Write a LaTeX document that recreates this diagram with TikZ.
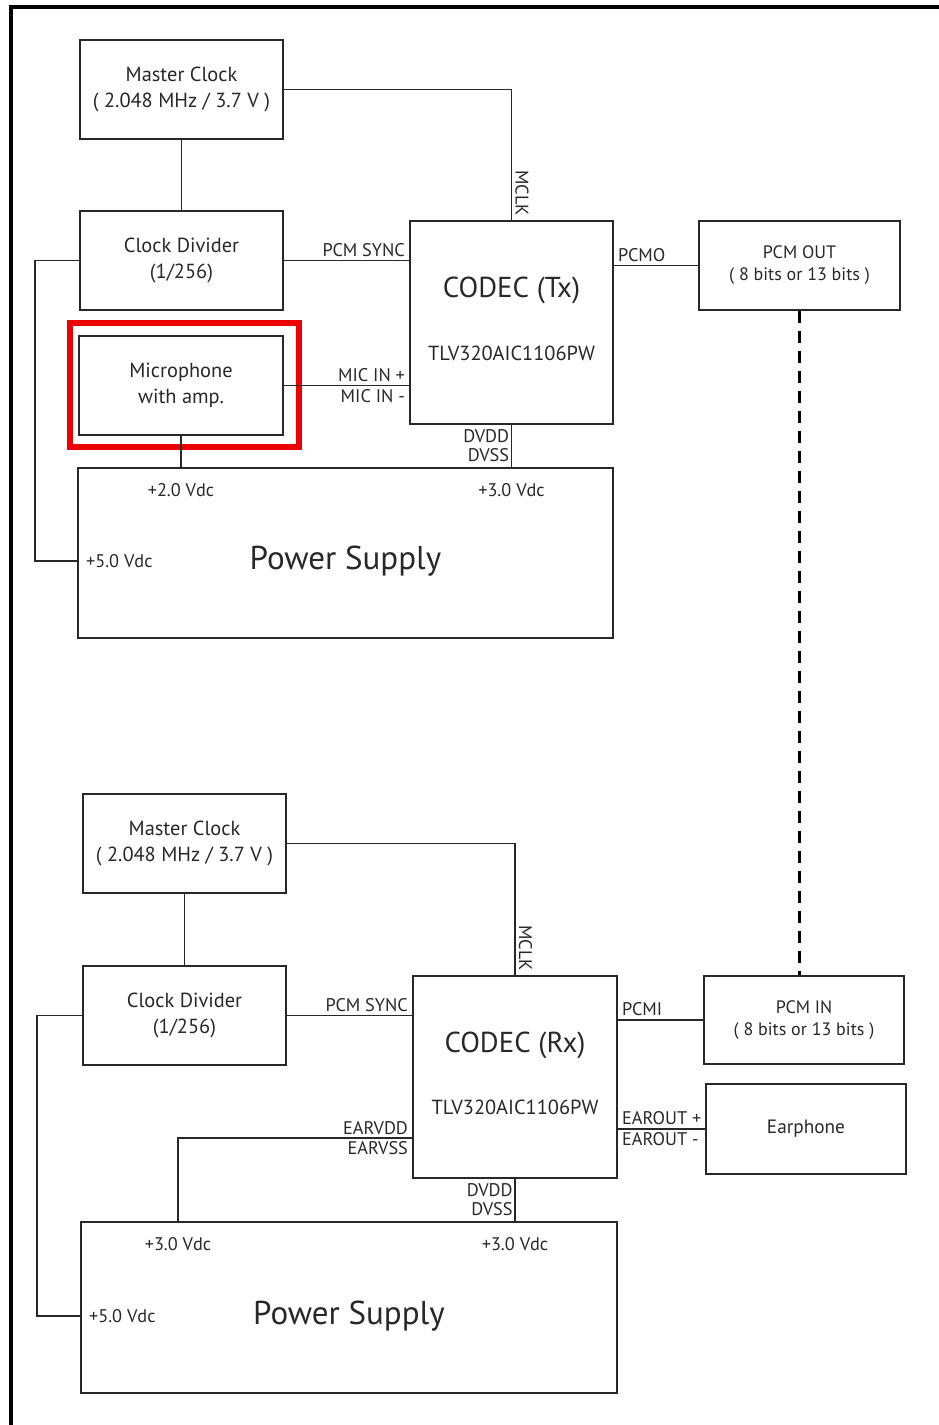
\documentclass[tikz,border=0pt]{standalone}
\usepackage{fontspec}
\setmainfont{PT Sans}
\usetikzlibrary{positioning,calc}
\definecolor{dgray}{RGB}{40,40,40}
\definecolor{hired}{RGB}{236,0,0}
\tikzset{
  blk/.style={draw=dgray, line width=1.8pt, text=dgray, align=center, inner sep=0pt, font=\fontsize{14.5}{18.5}\selectfont},
  smallblk/.style={blk, font=\fontsize{12.8}{15.6}\selectfont},
  wire/.style={draw=dgray, line width=1.4pt},
  lbl/.style={text=dgray, inner sep=2pt, font=\fontsize{13}{13.5}\selectfont},
  ttl/.style={text=dgray, inner sep=0pt, font=\fontsize{20.5}{24}\selectfont},
  part/.style={text=dgray, inner sep=0pt, font=\fontsize{14.5}{17}\selectfont},
  psu/.style={text=dgray, inner sep=0pt, font=\fontsize{23.5}{27}\selectfont},
  hilite/.style={draw=hired, line width=4.3pt},
  frame/.style={draw=black, line width=2.2pt},
  linkdash/.style={draw=black, line width=2pt, dash pattern=on 3mm off 2mm},
}

\begin{document}
\begin{tikzpicture}[x=0.025cm, y=-0.025cm]
  \useasboundingbox (0,0) rectangle (939,1425);
  \draw[frame] (939,7) -- (11,7) -- (11,1425);

  % transmit side
  \node[blk, minimum width=5.075cm, minimum height=2.475cm] (mclkA) at (181.5,89.5) {Master Clock\\( 2.048 MHz / 3.7 V )};
  \node[blk, minimum width=5.075cm, minimum height=2.475cm] (cdivA) at (181.5,260.5) {Clock Divider\\(1/256)};
  \node[blk, minimum width=5.09cm, minimum height=2.475cm] (micA) at (181,385.5) {Microphone\\with amp.};
  \node[blk, minimum width=5.075cm, minimum height=5.075cm] (codecA) at (511.5,322.5) {};
  \node[ttl] (codecAttl) at ([yshift=0.79cm]codecA.center) {CODEC (Tx)};
  \node[part] (codecApart) at ([yshift=-0.76cm]codecA.center) {TLV320AIC1106PW};
  \node[smallblk, minimum width=5.025cm, minimum height=2.225cm] (pcmoutA) at (799.5,265.5) {PCM OUT\\( 8 bits or 13 bits )};
  \node[blk, minimum width=13.375cm, minimum height=4.25cm] (psA) at (345.5,553) {};
  \node[psu] (psAtxt) at ([yshift=-0.2cm]psA.center) {Power Supply};

  \draw[hilite] ($(micA.north west)+(-7.5,-12)$) rectangle ($(micA.south east)+(15,11)$);

  \draw[wire] (mclkA.east) -| (codecA.north) node[lbl, pos=1, rotate=-90, anchor=south east] {MCLK};
  \draw[wire] (mclkA) -- (cdivA);
  \draw[wire] (cdivA.east) -- (cdivA.east -| codecA.west) node[lbl, pos=1, above left] {PCM SYNC};
  \draw[wire] (cdivA.west) -- ++(-1.1cm,0) |- ([yshift=-0.2cm]psA.west) node[lbl, pos=1, right=4pt] {+5.0 Vdc};
  \draw[wire] (micA.east) -- (micA.east -| codecA.west)
    node[lbl, pos=1, above left] {MIC IN +}
    node[lbl, pos=1, below left] {MIC IN -};
  \draw[wire] (micA) -- (micA |- psA.north) node[lbl, pos=1, below=9pt] {+2.0 Vdc};
  \draw[wire] (codecA) -- (codecA |- psA.north)
    node[lbl, midway, left, align=right, inner sep=1pt] {DVDD\\DVSS}
    node[lbl, pos=1, below=9pt] {+3.0 Vdc};
  \draw[wire] (pcmoutA.west -| codecA.east) -- (pcmoutA.west) node[lbl, pos=0, above right] {PCMO};

  % receive side
  \node[blk, minimum width=5.075cm, minimum height=2.475cm] (mclkB) at (184.5,843.5) {Master Clock\\( 2.048 MHz / 3.7 V )};
  \node[blk, minimum width=5.075cm, minimum height=2.475cm] (cdivB) at (184.5,1015.5) {Clock Divider\\(1/256)};
  \node[blk, minimum width=5.1cm, minimum height=5.05cm] (codecB) at (515,1077) {};
  \node[ttl] (codecBttl) at ([yshift=0.8cm]codecB.center) {CODEC (Rx)};
  \node[part] (codecBpart) at ([yshift=-0.75cm]codecB.center) {TLV320AIC1106PW};
  \node[smallblk, minimum width=5.0cm, minimum height=2.2cm] (pcminB) at (804,1020) {PCM IN\\( 8 bits or 13 bits )};
  \node[smallblk, minimum width=5.0cm, minimum height=2.25cm, font=\fontsize{13.7}{15}\selectfont] (earB) at (806,1129) {Earphone};
  \node[blk, minimum width=13.4cm, minimum height=4.275cm] (psB) at (349,1307.5) {};
  \node[psu] (psBtxt) at ([yshift=-0.21cm]psB.center) {Power Supply};

  \draw[wire] (mclkB.east) -| (codecB.north) node[lbl, pos=1, rotate=-90, anchor=south east] {MCLK};
  \draw[wire] (mclkB) -- (cdivB);
  \draw[wire] (cdivB.east) -- (cdivB.east -| codecB.west) node[lbl, pos=1, above left] {PCM SYNC};
  \draw[wire] (cdivB.west) -- ++(-1.125cm,0) |- ([yshift=-0.21cm]psB.west) node[lbl, pos=1, right=4pt] {+5.0 Vdc};
  \draw[wire] ($(codecB.west)+(0,61)$) -| ($(cdivB |- psB.north)+(-6.5,0)$)
    node[lbl, pos=0, above left] {EARVDD}
    node[lbl, pos=0, below left] {EARVSS}
    node[lbl, pos=1, below=9pt] {+3.0 Vdc};
  \draw[wire] (codecB) -- (codecB |- psB.north)
    node[lbl, midway, left, align=right, inner sep=1pt] {DVDD\\DVSS}
    node[lbl, pos=1, below=9pt] {+3.0 Vdc};
  \draw[wire] (pcminB.west -| codecB.east) -- (pcminB.west) node[lbl, pos=0, above right] {PCMI};
  \draw[wire] (earB.west -| codecB.east) -- (earB.west)
    node[lbl, pos=0, above right] {EAROUT +}
    node[lbl, pos=0, below right] {EAROUT -};

  % link between the two sides
  \draw[linkdash] (pcmoutA.south) -- (pcmoutA.south |- pcminB.north);
\end{tikzpicture}
\end{document}
